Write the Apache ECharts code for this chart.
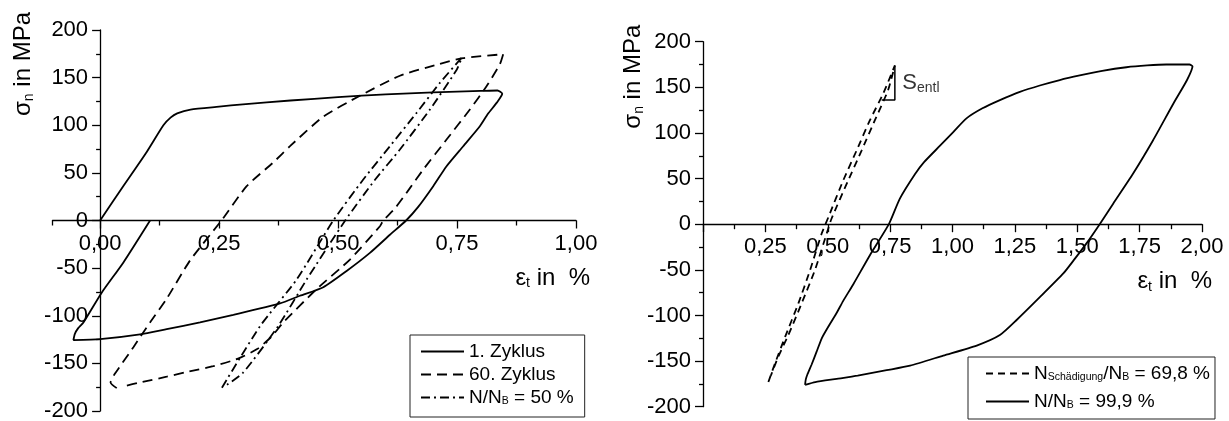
<!DOCTYPE html>
<html>
<head>
<meta charset="utf-8">
<script src="https://cdn.jsdelivr.net/npm/echarts@6/dist/echarts.min.js"></script>
<style>
  html, body { margin: 0; padding: 0; background: #ffffff; }
  #chart { width: 1229px; height: 421px; }
</style>
</head>
<body>
<div id="chart"></div>
<script>
// Strain ε_t in %, stress σ_n in MPa

// Left panel: hysteresis loops
const cycle1 = [
  [0, 0], [0.05, 37], [0.098, 72], [0.133, 100], [0.148, 108], [0.162, 112.5], [0.19, 116.5],
  [0.25, 119.5], [0.3, 122], [0.4, 126], [0.5, 129.5], [0.6, 132.5], [0.7, 134.5], [0.8, 136],
  [0.835, 136.5], [0.845, 133], [0.834, 124], [0.815, 112], [0.798, 99], [0.763, 78], [0.728, 57],
  [0.7, 36], [0.668, 14], [0.643, 0], [0.609, -15], [0.567, -34], [0.518, -53], [0.469, -70],
  [0.42, -79], [0.378, -87], [0.28, -99], [0.21, -107], [0.14, -114], [0.084, -119.5], [0, -124.5],
  [-0.056, -125.5], [-0.053, -119], [-0.046, -113], [-0.035, -107], [0.003, -76], [0.049, -44], [0.105, 0]
];
const cycle60 = [
  [0.035, -176], [0.022, -170], [0.031, -161], [0.07, -133], [0.105, -107], [0.14, -82], [0.189, -42],
  [0.255, 0], [0.308, 36], [0.364, 61], [0.399, 78], [0.469, 109], [0.546, 131], [0.63, 152],
  [0.707, 163.5], [0.763, 170.5], [0.847, 174.5], [0.84, 164], [0.812, 141], [0.777, 116.5],
  [0.728, 85], [0.679, 53.5], [0.651, 34], [0.62, 13], [0.595, 0], [0.588, -6], [0.525, -41],
  [0.455, -72], [0.385, -107], [0.36, -122], [0.33, -135], [0.29, -145], [0.238, -153],
  [0.182, -159], [0.14, -164], [0.084, -170], [0.05, -174]
];
const halfLife = [
  [0.256, -175.5], [0.336, -111], [0.413, -62], [0.49, 0], [0.553, 43], [0.609, 78], [0.665, 113],
  [0.714, 144.5], [0.76, 171], [0.749, 158], [0.693, 116.5], [0.63, 74.5], [0.578, 43], [0.515, 0],
  [0.434, -62], [0.374, -111], [0.3, -160], [0.262, -174]
];

// Right panel: damage onset and end of life
const damageOnset = [
  [0.262, -173], [0.288, -153], [0.329, -123.5], [0.382, -87], [0.429, -50.5], [0.476, -10],
  [0.503, 8], [0.562, 48], [0.616, 81], [0.669, 114], [0.722, 143], [0.769, 174], [0.742, 147],
  [0.689, 114], [0.636, 81], [0.582, 48], [0.515, 6], [0.496, -10], [0.449, -50], [0.395, -87],
  [0.342, -121.5], [0.302, -145], [0.272, -166]
];
const endOfLife = [
  [0.409, -176], [0.412, -170], [0.418, -165], [0.435, -154], [0.455, -140], [0.476, -125],
  [0.505, -111], [0.536, -97], [0.562, -84], [0.602, -66], [0.669, -34], [0.745, 0], [0.789, 28],
  [0.85, 55], [0.886, 68], [0.95, 86], [1.003, 101], [1.056, 116], [1.12, 127], [1.19, 136],
  [1.27, 145], [1.35, 152], [1.43, 158], [1.51, 163], [1.6, 168], [1.697, 172], [1.78, 174],
  [1.857, 175], [1.95, 175], [1.962, 173], [1.94, 158], [1.885, 132], [1.804, 92], [1.724, 55.5],
  [1.644, 22.5], [1.59, 0], [1.537, -21], [1.49, -38], [1.444, -54], [1.35, -80], [1.257, -105],
  [1.19, -121.5], [1.097, -133], [0.963, -144], [0.83, -155], [0.736, -160], [0.62, -166],
  [0.536, -169.5], [0.45, -173], [0.409, -176]
];
// Unloading stiffness triangle and its label anchor
const slopeTriangle = [[0.716, 136], [0.769, 136], [0.769, 174]];
const slopeLabelAt = [[0.769, 155]];

// Axis ranges and tick positions
const leftX = { min: -0.1, max: 1.0 };
const rightX = { min: 0, max: 2.0, interval: 0.25 };
const stress = { min: -200, max: 200, interval: 50 };
const leftMajorTicks = [0, 0.25, 0.5, 0.75, 1.0];
const leftMinorTicks = [-0.1, 0.125, 0.375, 0.625, 0.875];

// Series names and their rich-text legend labels
const seriesNames = ['1. Zyklus', '60. Zyklus', 'N/N_B = 50 %', 'N_Schädigung/N_B = 69,8 %', 'N/N_B = 99,9 %'];
const legendLabels = {
  '1. Zyklus': '1. Zyklus',
  '60. Zyklus': '60. Zyklus',
  'N/N_B = 50 %': 'N/N{sub|B} = 50 %',
  'N_Schädigung/N_B = 69,8 %': 'N{sub|Schädigung}/N{sub|B} = 69,8 %',
  'N/N_B = 99,9 %': 'N/N{sub|B} = 99,9 %'
};

const FONT = "'Liberation Sans', Arial, sans-serif";
const INK = '#000000';
const axisLineStyle = { color: INK, width: 1.3 };
const fmtStrain = v => v.toFixed(2).replace('.', ',');
const labelStyle = { fontSize: 22, fontFamily: FONT, color: INK, margin: 12 };
const nameSub = { fontSize: 14, fontFamily: FONT, color: INK, padding: [11, 0, 0, 0] };
const legendSub = { fontSize: 10.5, fontFamily: FONT, color: INK, padding: [8, 0, 0, 0] };

// Plot frames (pixels); the axes cross at zero inside each frame
const leftBox = { left: 52.5, top: 30, width: 523.5, height: 381 };
const rightBox = { left: 703, top: 41.7, width: 499, height: 365 };
const zeroRow = (box) => box.top + box.height * stress.max / (stress.max - stress.min);
const leftZeroCol = leftBox.left + leftBox.width * (0 - leftX.min) / (leftX.max - leftX.min);

const grids = [
  // 0: left data frame
  Object.assign({}, leftBox),
  // 1: left strain axis, its bottom edge lies on σ = 0
  { left: leftBox.left, top: leftBox.top, width: leftBox.width, height: zeroRow(leftBox) - leftBox.top },
  // 2: left stress axis, its left edge lies on ε = 0
  { left: leftZeroCol, top: leftBox.top, width: leftBox.left + leftBox.width - leftZeroCol, height: leftBox.height },
  // 3: right data frame
  Object.assign({}, rightBox),
  // 4: right strain axis, its bottom edge lies on σ = 0
  { left: rightBox.left, top: rightBox.top, width: rightBox.width, height: zeroRow(rightBox) - rightBox.top }
].map(g => Object.assign(g, { containLabel: false, outerBoundsMode: 'none' }));

function hiddenAxis(gridIndex, range) {
  return Object.assign({ type: 'value', gridIndex: gridIndex, show: false, min: 0, max: 1 }, range || {});
}
function strainName(gap) {
  return {
    name: 'ε{sub|t} in  %',
    nameLocation: 'end',
    nameGap: gap,
    nameMoveOverlap: false,
    nameTextStyle: {
      fontSize: 24, fontFamily: FONT, color: INK,
      align: 'right', verticalAlign: 'top', padding: [45, 0, 0, 0],
      rich: { sub: nameSub }
    }
  };
}
function stressAxis(gridIndex, gap, shift) {
  return {
    type: 'value', gridIndex: gridIndex, position: 'left',
    min: stress.min, max: stress.max, interval: stress.interval,
    axisLine: { show: true, onZero: false, lineStyle: axisLineStyle },
    axisTick: { show: true, length: 8, lineStyle: axisLineStyle },
    minorTick: { show: true, splitNumber: 2, length: 4, lineStyle: axisLineStyle },
    axisLabel: labelStyle,
    splitLine: { show: false },
    name: 'σ{sub|n} in MPa',
    nameLocation: 'end',
    nameRotate: 90,
    nameGap: gap,
    nameMoveOverlap: false,
    nameTextStyle: {
      fontSize: 24, fontFamily: FONT, color: INK,
      align: 'right', verticalAlign: 'bottom', padding: [0, 0, shift, 0],
      rich: { sub: nameSub }
    }
  };
}
function curve(name, data, xi, yi, dash) {
  return {
    name: name, type: 'line', xAxisIndex: xi, yAxisIndex: yi, data: data,
    symbol: 'none', showSymbol: false, smooth: 0.2,
    lineStyle: { color: INK, width: 1.8, type: dash },
    itemStyle: { color: INK },
    emphasis: { disabled: true }, animation: false
  };
}
function legendBox(names, left, top, padding, gap) {
  return {
    data: names, orient: 'vertical', left: left, top: top,
    padding: padding, itemGap: gap, itemWidth: 43, itemHeight: 12,
    borderColor: '#222', borderWidth: 1, backgroundColor: '#fff',
    selectedMode: false,
    itemStyle: { opacity: 0 },
    formatter: n => legendLabels[n],
    textStyle: { fontSize: 19, fontFamily: FONT, color: INK, rich: { sub: legendSub } }
  };
}

const chart = echarts.init(document.getElementById('chart'), null, { renderer: 'canvas' });
chart.setOption({
  animation: false,
  backgroundColor: '#ffffff',
  grid: grids,
  xAxis: [
    // 0: left data
    hiddenAxis(0, leftX),
    // 1: left strain axis with major ticks and labels
    Object.assign({
      type: 'value', gridIndex: 1, min: leftX.min, max: leftX.max, position: 'bottom',
      axisLine: { show: true, onZero: false, lineStyle: axisLineStyle },
      axisTick: { show: true, customValues: leftMajorTicks, length: 8, lineStyle: axisLineStyle },
      axisLabel: Object.assign({ customValues: leftMajorTicks, formatter: fmtStrain }, labelStyle),
      splitLine: { show: false }
    }, strainName(14)),
    // 2: left strain axis minor ticks
    {
      type: 'value', gridIndex: 1, min: leftX.min, max: leftX.max, position: 'bottom',
      axisLine: { show: false, onZero: false },
      axisTick: { show: true, customValues: leftMinorTicks, length: 5, lineStyle: axisLineStyle },
      axisLabel: { show: false },
      splitLine: { show: false }
    },
    // 3: placeholder for the left stress-axis frame
    hiddenAxis(2),
    // 4: right data
    hiddenAxis(3, { min: rightX.min, max: rightX.max }),
    // 5: right strain axis
    Object.assign({
      type: 'value', gridIndex: 4, min: rightX.min, max: rightX.max, interval: rightX.interval, position: 'bottom',
      axisLine: { show: true, onZero: false, lineStyle: axisLineStyle },
      axisTick: { show: true, length: 8, lineStyle: axisLineStyle },
      minorTick: { show: true, splitNumber: 2, length: 5, lineStyle: axisLineStyle },
      axisLabel: Object.assign({ formatter: v => (v === 0 ? '' : fmtStrain(v)) }, labelStyle),
      splitLine: { show: false }
    }, strainName(10))
  ],
  yAxis: [
    // 0: left data
    hiddenAxis(0, { min: stress.min, max: stress.max }),
    // 1: placeholder for the left strain-axis frame
    hiddenAxis(1),
    // 2: left stress axis
    stressAxis(2, 18, 64),
    // 3: right stress axis (also the data axis)
    stressAxis(3, 17, 57),
    // 4: placeholder for the right strain-axis frame
    hiddenAxis(4)
  ],
  legend: [
    legendBox(seriesNames.slice(0, 3), 410, 335, [7, 11, 10, 10], 4),
    legendBox(seriesNames.slice(3), 968, 357, [7, 5, 8, 17], 9)
  ],
  series: [
    curve(seriesNames[0], cycle1, 0, 0, 'solid'),
    curve(seriesNames[1], cycle60, 0, 0, [10, 6]),
    curve(seriesNames[2], halfLife, 0, 0, [9, 4, 2, 4]),
    curve(seriesNames[3], damageOnset, 4, 3, [7, 5]),
    curve(seriesNames[4], endOfLife, 4, 3, 'solid'),
    {
      name: 'S_entl', type: 'line', xAxisIndex: 4, yAxisIndex: 3, data: slopeTriangle,
      symbol: 'none', lineStyle: { color: INK, width: 1.5 }, silent: true, animation: false
    },
    {
      name: 'S_entl label', type: 'scatter', xAxisIndex: 4, yAxisIndex: 3, data: slopeLabelAt,
      symbolSize: 1, itemStyle: { color: 'rgba(0,0,0,0)' }, silent: true, animation: false,
      label: {
        show: true, position: 'right', distance: 7,
        formatter: '{s|S}{sub|entl}',
        rich: {
          s: { fontSize: 22, fontFamily: FONT, color: INK },
          sub: { fontSize: 14, fontFamily: FONT, color: INK, padding: [10, 0, 0, 0] }
        }
      }
    }
  ]
});
</script>
</body>
</html>
